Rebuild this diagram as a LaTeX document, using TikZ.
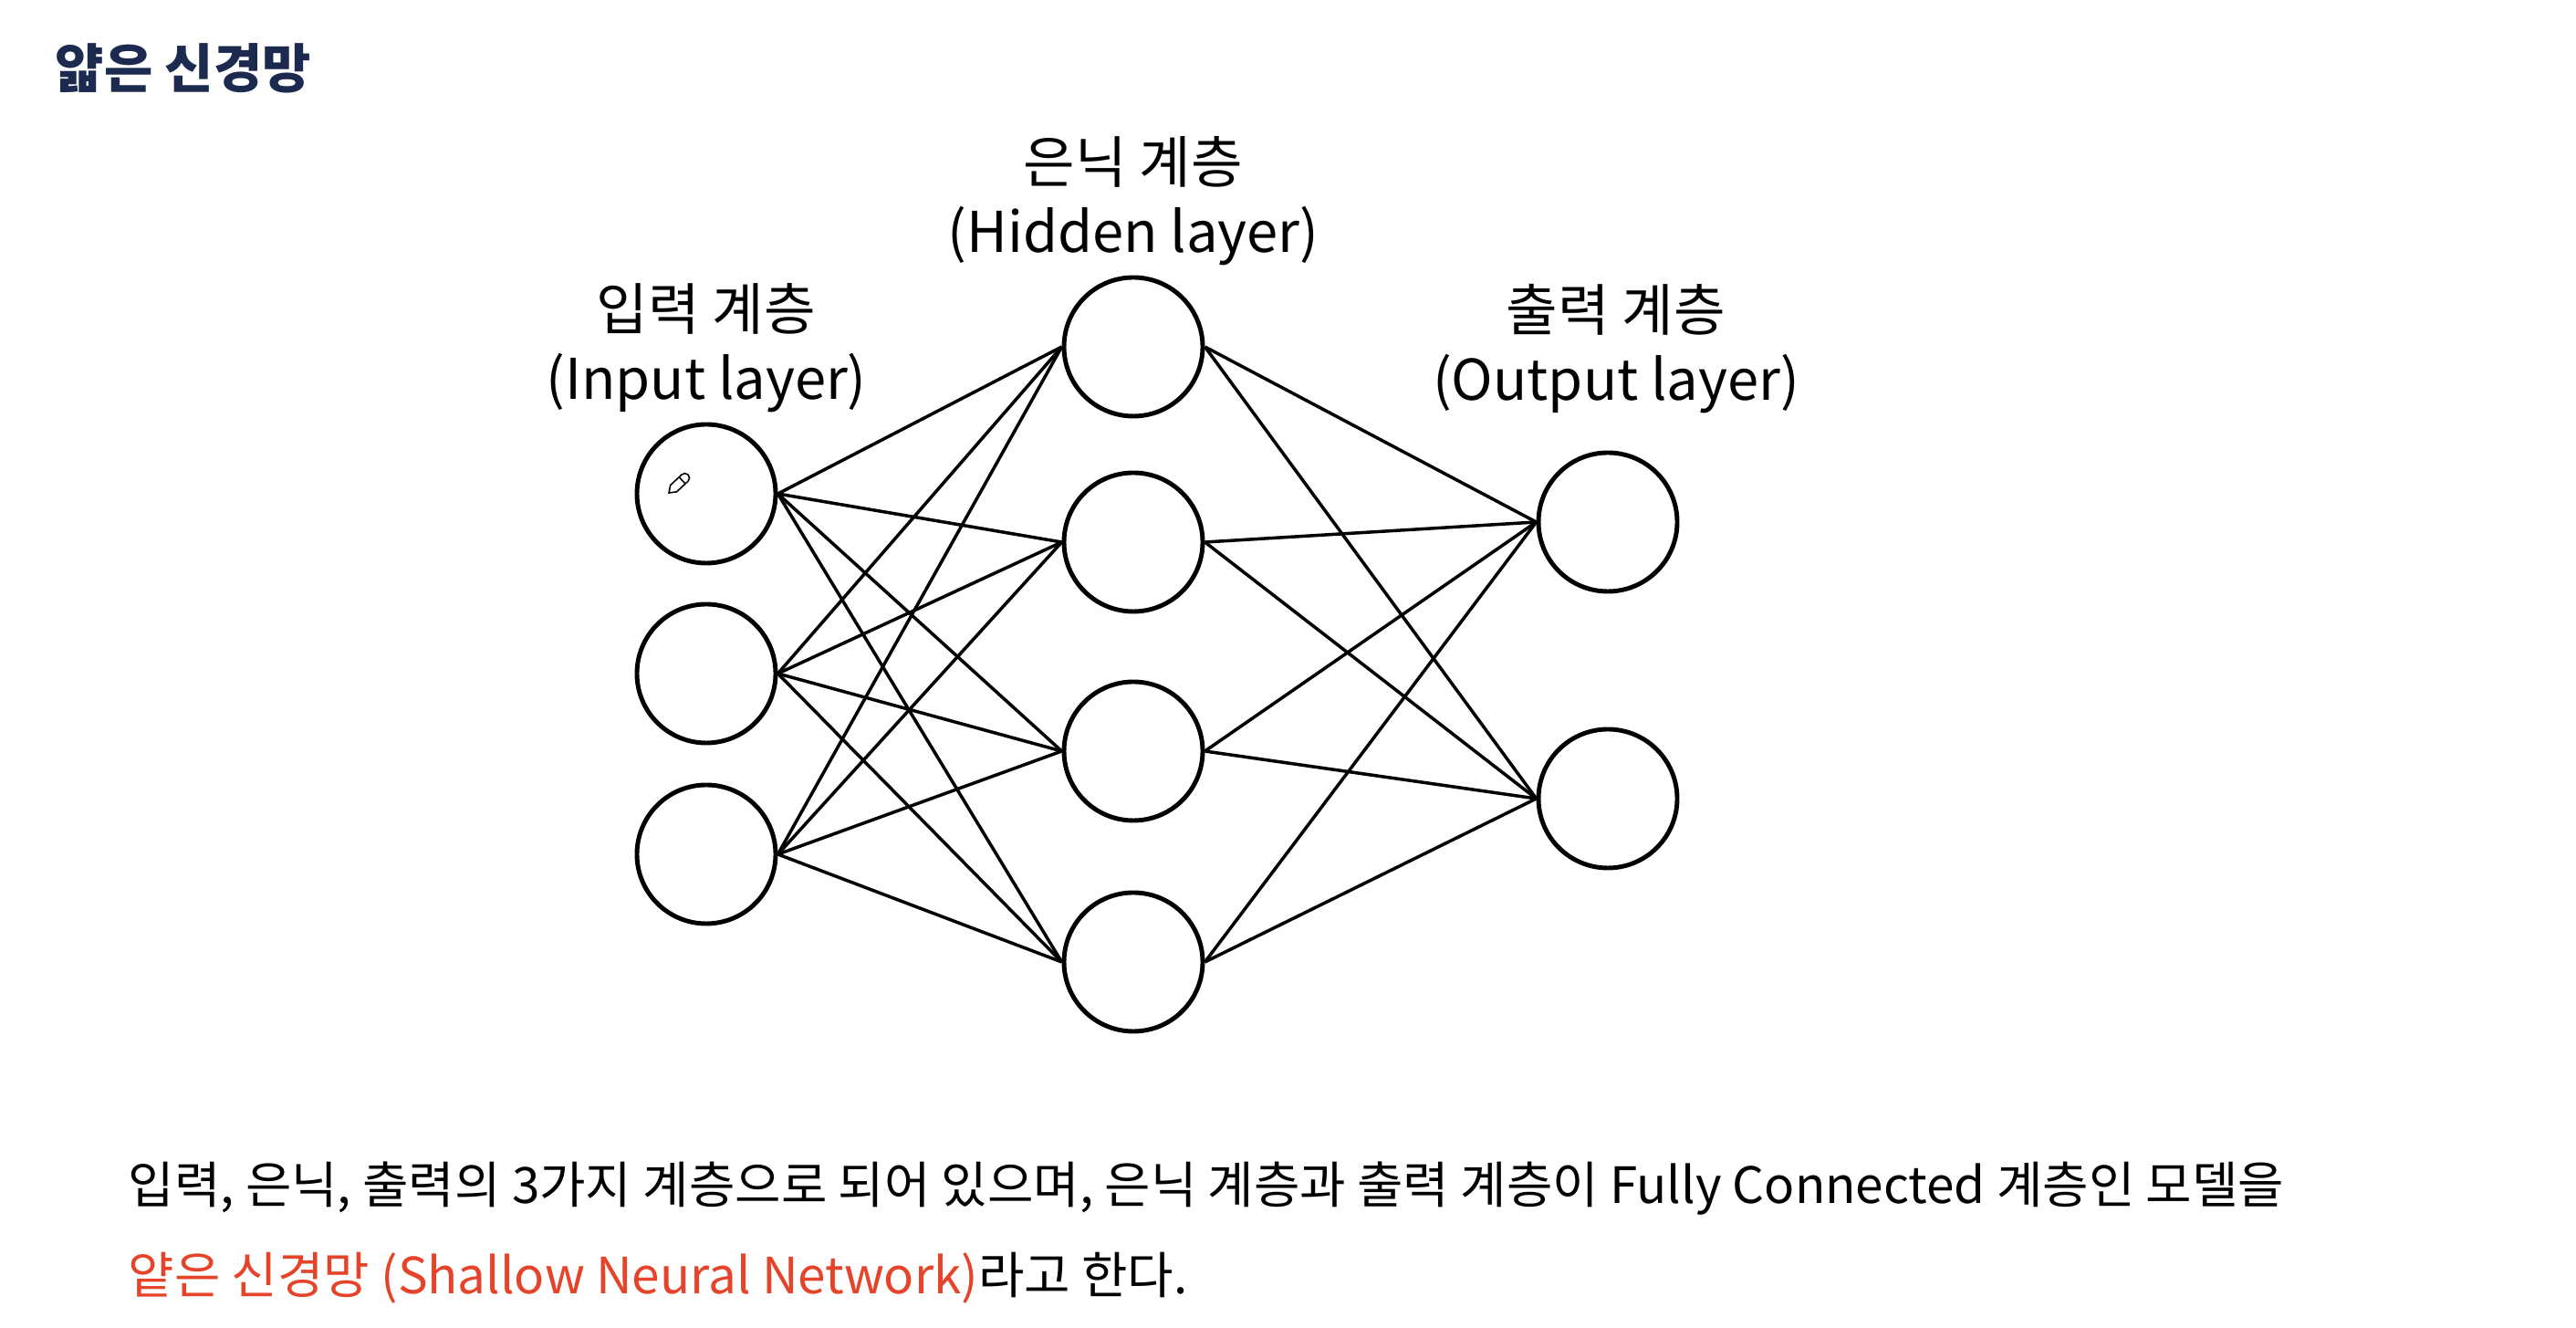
\documentclass[tikz,border=0pt]{standalone}
\usepackage{fontspec}
\setmainfont{Noto Sans CJK KR}
\usetikzlibrary{positioning}
\definecolor{titlenavy}{HTML}{1B2A4E}
\definecolor{notered}{HTML}{E5432A}
\tikzset {
  every node/.style={font=\fontsize{17.5}{21.6}\selectfont},
  neuron/.style={draw,circle,line width=1.4pt,minimum size=1.52cm,inner sep=0pt},
  link/.style={line width=1pt},
  layerlabel/.style={align=center,inner sep=0pt},
  bodytext/.style={anchor=base west,inner sep=0pt,font=\fontsize{15.6}{20}\selectfont},
}

\begin{document}
\begin{tikzpicture}
  \useasboundingbox (0,0) rectangle (28.23,14.55);
  \foreach \n/\y in {1/9.14,2/7.17,3/5.19}
    \node[neuron] (in\n) at (7.74,\y) {};
  \foreach \n/\y in {1/10.75,2/8.61,3/6.32,4/4.01}
    \node[neuron] (hid\n) at (12.42,\y) {};
  \foreach \n/\y in {1/8.83,2/5.80}
    \node[neuron] (out\n) at (17.62,\y) {};
  \foreach \i in {1,2,3}
    \foreach \h in {1,2,3,4}
      \draw[link] (in\i.east) -- (hid\h.west);
  \foreach \h in {1,2,3,4}
    \foreach \o in {1,2}
      \draw[link] (hid\h.east) -- (out\o.west);
  \node[layerlabel,above=1mm of in1] (inlabel) {입력 계층\\(Input layer)};
  \node[layerlabel,above=1mm of hid1] (hidlabel) {은닉 계층\\(Hidden layer)};
  \node[layerlabel,above=4mm of out1,xshift=.09cm] (outlabel) {출력 계층\\(Output layer)};
  \node[anchor=base west,inner sep=0pt,text=titlenavy,
    font=\fontsize{16.5}{20}\selectfont\bfseries] (title) at (0.60,13.58) {얇은 신경망};
  \node[bodytext] (line1) at (1.40,1.36)
    {입력, 은닉, 출력의 3가지 계층으로 되어 있으며, 은닉 계층과 출력 계층이 Fully Connected 계층인 모델을};
  \node[bodytext] (line2) at (1.40,0.37)
    {\textcolor{notered}{얕은 신경망 (Shallow Neural Network)}라고 한다.};
  \begin{scope}[shift={(7.33,9.15)},rotate=43,line width=.45pt]
    \draw (0,0) -- (.07,.05) -- (.24,.05) arc[start angle=90,end angle=-90,radius=.05]
      -- (.07,-.05) -- cycle;
    \draw (.2,.05) -- (.2,-.05);
  \end{scope}
\end{tikzpicture}
\end{document}
